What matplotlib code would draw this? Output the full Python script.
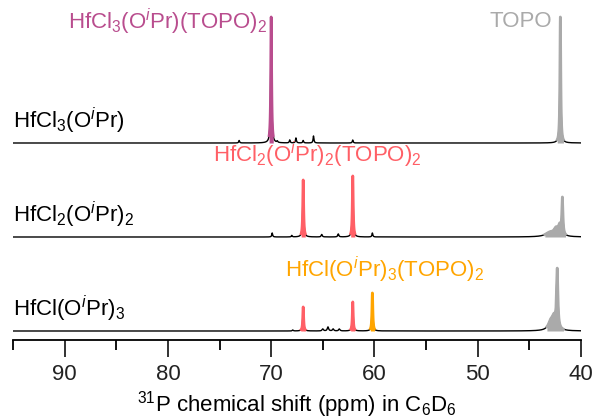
import numpy as np
import matplotlib
matplotlib.use("Agg")
import matplotlib.pyplot as plt

plt.rcParams['font.family'] = ['Liberation Sans', 'DejaVu Sans']
plt.rcParams['mathtext.fontset'] = 'custom'
plt.rcParams['mathtext.rm'] = 'Liberation Sans'
plt.rcParams['mathtext.it'] = 'Liberation Sans:italic'
plt.rcParams['mathtext.bf'] = 'Liberation Sans:bold'

# ---- data (ppm, heights in arbitrary intensity units) ----
ppm_range = [40, 95]
xticks_major = [90, 80, 70, 60, 50, 40]

trace_labels = ["HfCl$_3$(O$^i$Pr)", "HfCl$_2$(O$^i$Pr)$_2$", "HfCl(O$^i$Pr)$_3$"]
trace_offsets = [197, 103, 9]

# each peak: position (ppm), height, fwhm (ppm)
top_pos = [73.1, 70.0, 69.4, 68.2, 67.6, 66.9, 65.9, 62.1, 42.0]
top_hgt = [2.5, 126, 1.5, 3, 5, 2.5, 7, 3, 126]
top_fwhm = [0.1, 0.1, 0.1, 0.1, 0.1, 0.1, 0.1, 0.1, 0.1]

mid_pos = [69.9, 68.0, 66.9, 65.1, 63.5, 62.1, 60.2, 43.0, 42.4, 42.05, 41.8]
mid_hgt = [4, 1.5, 57, 2.5, 3, 61, 4, 4, 7, 9, 36]
mid_fwhm = [0.1, 0.1, 0.1, 0.12, 0.12, 0.1, 0.1, 1.0, 0.5, 0.3, 0.12]

bot_pos = [67.9, 66.9, 65.0, 64.5, 64.0, 63.4, 62.1, 60.2, 42.9, 42.6, 42.3]
bot_hgt = [1, 24, 2, 4, 2, 2, 29, 38, 9, 10, 58]
bot_fwhm = [0.1, 0.1, 0.15, 0.15, 0.15, 0.15, 0.1, 0.1, 0.6, 0.4, 0.15]

# colored regions: (lo, hi, color)
purple, red, orange, gray = "#B94D8E", "#FF5F66", "#FFA500", "#AAAAAA"
top_fill = [(69.8, 70.2, purple), (41.7, 42.3, gray)]
mid_fill = [(66.7, 67.1, red), (61.9, 62.3, red), (41.5, 43.5, gray)]
bot_fill = [(66.7, 67.1, red), (61.9, 62.3, red), (60.0, 60.4, orange), (41.7, 43.3, gray)]

species_labels = [
    ("HfCl$_3$(O$^i$Pr)(TOPO)$_2$", 70.35, 303, purple, 'right'),
    ("TOPO", 42.75, 308, gray, 'right'),
    ("HfCl$_2$(O$^i$Pr)$_2$(TOPO)$_2$", 65.5, 170, red, 'center'),
    ("HfCl(O$^i$Pr)$_3$(TOPO)$_2$", 59.0, 55, orange, 'center'),
]

x = np.linspace(ppm_range[0], ppm_range[1], 11001)


def spectrum(pos, hgt, fwhm):
    y = np.zeros_like(x)
    for p, h, w in zip(pos, hgt, fwhm):
        g = w / 2.0
        y += h * g**2 / ((x - p) ** 2 + g**2)
    return y


fig = plt.figure(figsize=(5.97, 4.20), dpi=100)
ax = fig.add_axes([13 / 597, 80 / 420, 568 / 597, 330 / 420])

traces = [(top_pos, top_hgt, top_fwhm, top_fill),
          (mid_pos, mid_hgt, mid_fwhm, mid_fill),
          (bot_pos, bot_hgt, bot_fwhm, bot_fill)]

for (pos, hgt, fw, fills), off, lab in zip(traces, trace_offsets, trace_labels):
    y = spectrum(pos, hgt, fw) + off
    ax.plot(x, y, color='black', lw=1.0, zorder=2)
    for lo, hi, c in fills:
        m = (x >= lo) & (x <= hi)
        ax.fill_between(x[m], off, y[m], color=c, lw=0, zorder=3)
        ax.plot(x[m], y[m], color=c, lw=2.0, zorder=4)
    ax.text(95, off + 7.5, lab, fontsize=16, ha='left', va='bottom', color='black')

for txt, xp, yp, c, ha in species_labels:
    ax.text(xp, yp, txt, fontsize=16, color=c, ha=ha, va='bottom')

ax.set_xlim(95, 40)
ax.set_ylim(0, 330)
ax.set_xticks(xticks_major)
ax.set_xticks(np.arange(45, 96, 10), minor=True)
ax.set_yticks([])
for s in ['top', 'left', 'right']:
    ax.spines[s].set_visible(False)
ax.spines['bottom'].set_linewidth(1.3)
ax.tick_params(axis='x', which='major', direction='out', length=12, width=1.3,
               labelsize=16, pad=5, colors='#222222')
ax.tick_params(axis='x', which='minor', direction='out', length=7, width=1.3)
ax.set_xlabel("$^{31}$P chemical shift (ppm) in C$_6$D$_6$", fontsize=16, labelpad=3)
ax.patch.set_visible(False)

fig.savefig("out.png", dpi=100)
